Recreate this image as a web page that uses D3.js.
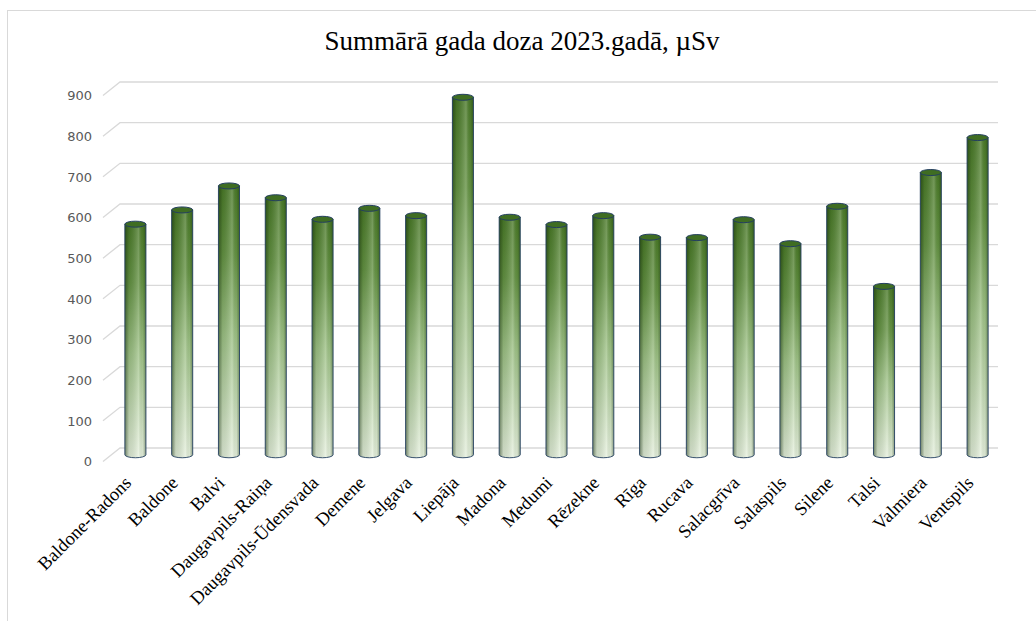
<!DOCTYPE html>
<html>
<head>
<meta charset="utf-8">
<script src="https://cdn.jsdelivr.net/npm/d3@7"></script>
<style>
  body { margin: 0; background: #fff; }
  svg { display: block; }
</style>
</head>
<body>
<div id="chart"></div>
<script>
// data
const categories = ["Baldone-Radons", "Baldone", "Balvi", "Daugavpils-Raiņa", "Daugavpils-Ūdensvada",
  "Demene", "Jelgava", "Liepāja", "Madona", "Medumi", "Rēzekne", "Rīga", "Rucava",
  "Salacgrīva", "Salaspils", "Silene", "Talsi", "Valmiera", "Ventspils"];
const doses = [567, 602, 661, 632, 579, 606, 588, 879, 584, 566, 588, 535, 534, 578, 519, 611, 414, 694, 780];
const yTicks = [0, 100, 200, 300, 400, 500, 600, 700, 800, 900];
const title = "Summārā gada doza 2023.gadā, µSv";

const width = 1036, height = 621;
// oblique depth of the floor: front edge sits left and below the back wall
const depthX = 17, depthY = 13.5;

const svg = d3.select("#chart").append("svg")
  .attr("width", width)
  .attr("height", height);

// chart frame
svg.append("rect")
  .attr("x", 7.5).attr("y", 10.5)
  .attr("width", width + 10).attr("height", height + 10)
  .attr("fill", "#fff")
  .attr("stroke", "#d9d9d9")
  .attr("stroke-width", 1);

svg.append("text")
  .attr("x", 522).attr("y", 50)
  .attr("text-anchor", "middle")
  .style("font-family", "'Liberation Serif', 'Times New Roman', serif")
  .style("font-size", "27px")
  .attr("fill", "#000")
  .text(title);

// back wall scale
const yBack = d3.scaleLinear().domain([0, 900]).range([448, 82]);
const xBackLeft = 120, xBackRight = 998;

// bars stand half way into the floor
const yBar = d3.scaleLinear().domain([0, 900]).range([448 + depthY / 2, 82 + depthY / 2]);
const x = d3.scaleBand().domain(categories).range([112, 1001]).paddingInner(0.55).paddingOuter(0.275);

const defs = svg.append("defs");
const vert = defs.append("linearGradient").attr("id", "vert")
  .attr("x1", 0).attr("y1", 0).attr("x2", 0).attr("y2", 1);
[[0, "#4a7928"], [0.25, "#649243"], [0.55, "#9fc287"], [1, "#e6f0de"]].forEach(([o, c]) => {
  vert.append("stop").attr("offset", o).attr("stop-color", c);
});
const horiz = defs.append("linearGradient").attr("id", "horiz")
  .attr("x1", 0).attr("y1", 0).attr("x2", 1).attr("y2", 0);
[[0, "#102808", 0.55], [0.2, "#102808", 0.12], [0.65, "#ffffff", 0.22], [0.85, "#102808", 0.05],
 [1, "#102808", 0.4]].forEach(([o, c, a]) => {
  horiz.append("stop").attr("offset", o).attr("stop-color", c).attr("stop-opacity", a);
});

// gridlines with their slanted floor part
const grid = svg.append("g").attr("class", "grid");
yTicks.forEach(t => {
  const yb = yBack(t);
  grid.append("path")
    .attr("d", `M${xBackLeft - depthX},${yb + depthY}L${xBackLeft},${yb}L${xBackRight},${yb}`)
    .attr("fill", "none")
    .attr("stroke", "#d9d9d9")
    .attr("stroke-width", 1.3);
  grid.append("text")
    .attr("x", 92)
    .attr("y", yb + depthY)
    .attr("dy", "0.36em")
    .attr("text-anchor", "end")
    .style("font-family", "'DejaVu Sans', sans-serif")
    .style("font-size", "13px")
    .attr("fill", "#595959")
    .text(t);
});

// cylinders
const r = x.bandwidth() / 2, ry = 3;
const bars = svg.append("g").attr("class", "bars")
  .selectAll("g")
  .data(categories.map((c, i) => ({ name: c, value: doses[i] })))
  .join("g");

const bodyPath = d => {
  const cx = x(d.name) + r, yt = yBar(d.value), yb = yBar(0);
  return `M${cx - r},${yt}L${cx - r},${yb}A${r},${ry} 0 0 0 ${cx + r},${yb}L${cx + r},${yt}Z`;
};
bars.append("path")
  .attr("d", bodyPath)
  .attr("fill", "url(#vert)");
bars.append("path")
  .attr("d", bodyPath)
  .attr("fill", "url(#horiz)")
  .attr("stroke", "#243f60")
  .attr("stroke-width", 0.9);
bars.append("ellipse")
  .attr("cx", d => x(d.name) + r)
  .attr("cy", d => yBar(d.value))
  .attr("rx", r)
  .attr("ry", ry)
  .attr("fill", "#3f6d22")
  .attr("stroke", "#243f60")
  .attr("stroke-width", 1);

// category labels
svg.append("g").attr("class", "labels")
  .selectAll("text")
  .data(categories)
  .join("text")
  .attr("transform", c => `translate(${x(c) + r - 3},${484}) rotate(-45)`)
  .attr("text-anchor", "end")
  .style("font-family", "'Liberation Serif', 'Times New Roman', serif")
  .style("font-size", "18.5px")
  .attr("fill", "#000")
  .text(c => c);
</script>
</body>
</html>
